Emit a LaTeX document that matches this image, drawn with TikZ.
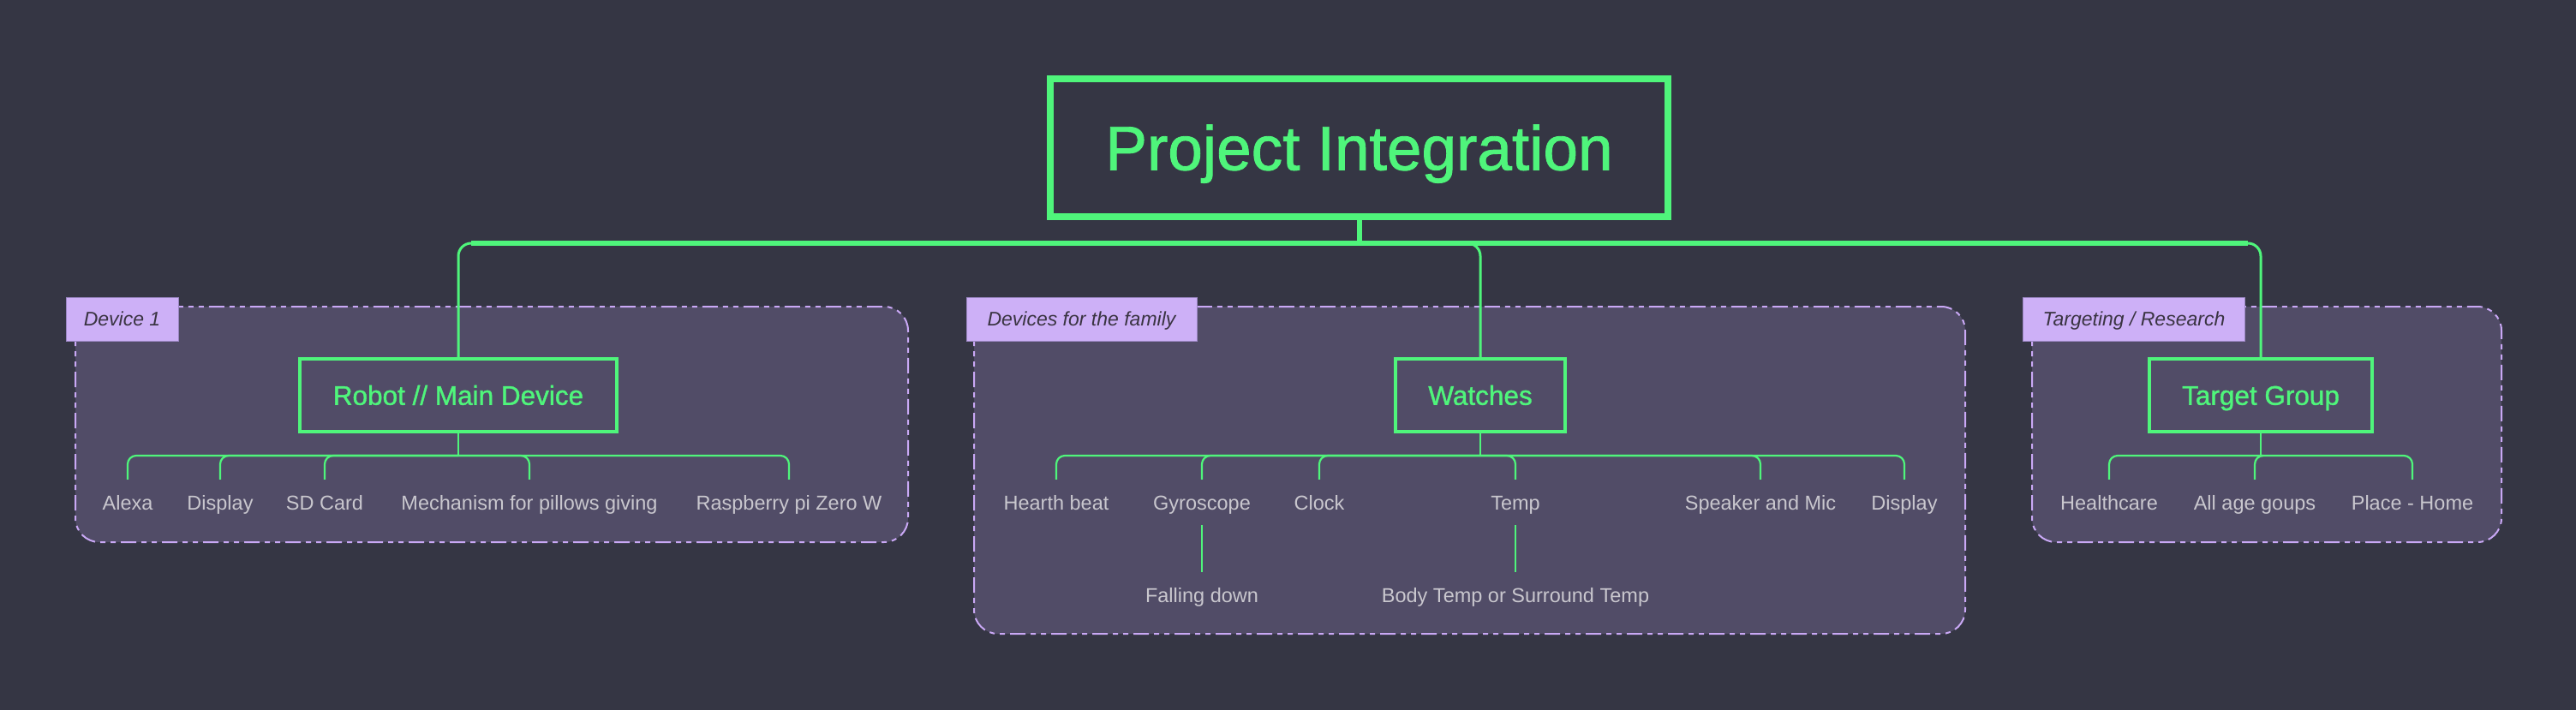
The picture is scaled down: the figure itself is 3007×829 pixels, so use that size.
\documentclass[tikz,border=0pt]{standalone}
\usepackage{fontspec}
\setmainfont{Liberation Sans}
\newfontfamily\mediumfont[FakeBold=1.2]{Liberation Sans}
\usepackage{xcolor}
\usepackage{tikz}

\definecolor{canvas}{HTML}{353644}
\definecolor{groupfill}{HTML}{514C67}
\definecolor{mint}{HTML}{4FF57B}
\definecolor{lilac}{HTML}{CDB0F7}
\definecolor{lilacline}{HTML}{C9A8F5}
\definecolor{lilacedge}{HTML}{9A86C2}
\definecolor{leafgray}{HTML}{C9C7CE}
\definecolor{tagtext}{HTML}{3A3442}

\begin{document}
\begin{tikzpicture}[x=1pt, y=-1pt,
    topic/.style={draw=mint, line width=4pt, text=mint, font=\mediumfont\fontsize{31.5}{36}\selectfont, text height=22.5pt, text depth=0pt, minimum height=85pt, inner sep=0pt},
    leaf/.style={text=leafgray, font=\fontsize{23.5}{28}\selectfont, text height=18pt, text depth=1pt, inner xsep=0pt, inner ysep=17pt, anchor=base},
    tag/.style={fill=lilac, draw=lilacedge, line width=1pt, text=tagtext, font=\itshape\fontsize{23}{28}\selectfont, text height=16.5pt, text depth=0pt, minimum height=51pt, inner sep=0pt},
    groupbox/.style={fill=groupfill, draw=lilacline, line width=2pt, rounded corners=28pt, dash pattern=on 18pt off 6pt on 6pt off 6pt on 6pt off 6pt},
    stem/.style={draw=mint, line width=6pt},
    branch/.style={draw=mint, line width=3pt, rounded corners=15pt},
    twig/.style={draw=mint, line width=2.2pt, rounded corners=10pt}]
        \fill[canvas] (0,0) rectangle (3007,829);
        \useasboundingbox (0,0) rectangle (3007,829);

        \draw[groupbox] (88,358) rectangle (1060,633);
        \draw[groupbox] (1137,358) rectangle (2294,740);
        \draw[groupbox] (2372,358) rectangle (2920,633);

        \node[tag, minimum width=131pt] (tagdev) at (142.5,372.5) {Device 1};
        \node[tag, minimum width=269pt] (tagfam) at (1262.5,372.5) {Devices for the family};
        \node[tag, minimum width=259pt] (tagres) at (2491,372.5) {Targeting / Research};

        \node[draw=mint, line width=8pt, text=mint, font=\mediumfont\fontsize{73}{80}\selectfont, text height=52pt, text depth=0pt, minimum width=721pt, minimum height=161pt, inner sep=0pt] (main) at (1586.5,172.5) {Project Integration};

        \node[topic, minimum width=370pt] (robot) at (535,461.5) {Robot // Main Device};
        \node[topic, minimum width=198pt] (watches) at (1728,461.5) {Watches};
        \node[topic, minimum width=260pt] (target) at (2639,461.5) {Target Group};

        \coordinate (hub) at (main.south |- 0,284);
        \draw[stem] (main.south) -- (hub);
        \foreach \t/\s in {robot/15, watches/-15, target/-15} {
            \draw[branch] (hub) -| (\t.north);
            \draw[stem] (hub) -- ([xshift=\s pt]hub -| \t.north);
        }

        \node[leaf] (alexa) at (149,595) {Alexa};
        \node[leaf] (disp) at (257,595) {Display};
        \node[leaf] (sdcard) at (379,595) {SD Card};
        \node[leaf] (pillow) at (618,595) {Mechanism for pillows giving};
        \node[leaf] (raspi) at (921,595) {Raspberry pi Zero W};
        \draw[twig] (robot.south) -- ++(0,26) coordinate (rbus);
        \foreach \l in {alexa, disp, sdcard, pillow, raspi}
            \draw[twig] (rbus) -| (\l.north);

        \node[leaf] (heart) at (1233,595) {Hearth beat};
        \node[leaf] (gyro) at (1403,595) {Gyroscope};
        \node[leaf] (clock) at (1540,595) {Clock};
        \node[leaf] (temp) at (1769,595) {Temp};
        \node[leaf] (speaker) at (2055,595) {Speaker and Mic};
        \node[leaf] (wdisp) at (2223,595) {Display};
        \node[leaf] (fall) at (1403,703) {Falling down};
        \node[leaf] (bodytemp) at (1769,703) {Body Temp or Surround Temp};
        \draw[twig] (watches.south) -- ++(0,26) coordinate (wbus);
        \foreach \l in {heart, gyro, clock, temp, speaker, wdisp}
            \draw[twig] (wbus) -| (\l.north);
        \draw[twig] (gyro.south) -- (fall.north);
        \draw[twig] (temp.south) -- (bodytemp.north);

        \node[leaf] (health) at (2462,595) {Healthcare};
        \node[leaf] (age) at (2632,595) {All age goups};
        \node[leaf] (home) at (2816,595) {Place - Home};
        \draw[twig] (target.south) -- ++(0,26) coordinate (tbus);
        \draw[twig] (tbus) -| (health.north);
        \draw[twig] (age.north) |- (tbus);
        \draw[twig] (tbus) -| (home.north);
\end{tikzpicture}
\end{document}
